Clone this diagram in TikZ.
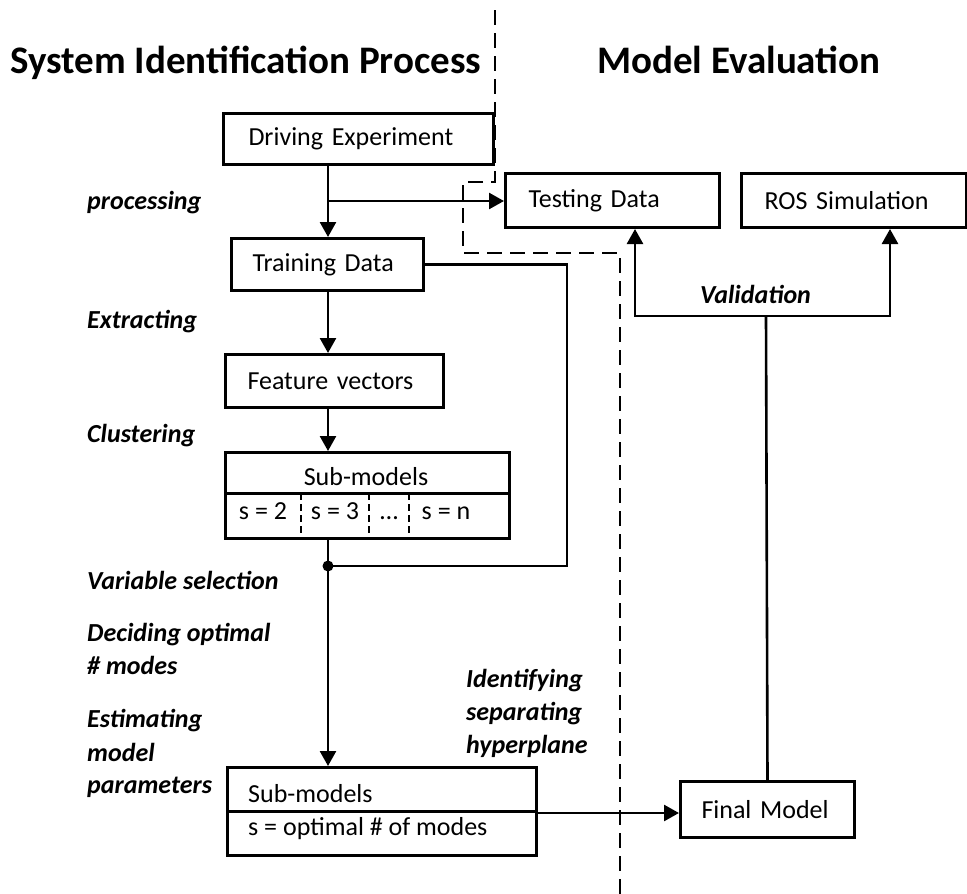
\documentclass[tikz,border=0pt]{standalone}
\usepackage{fontspec}
\setmainfont{Carlito}
\usetikzlibrary{arrows.meta}

\begin{document}
\begin{tikzpicture}[x=1pt,y=-1pt,
  box/.style={draw, line width=3pt, inner ysep=0pt, anchor=north west,
    align=left, font=\fontsize{26}{30}\selectfont},
  boxt/.style={font=\fontsize{26}{30}\selectfont, inner sep=0pt, anchor=base},
  lbl/.style={anchor=base west, inner sep=0pt,
    font=\fontsize{26}{33}\selectfont\bfseries\itshape},
  ttl/.style={anchor=base west, inner sep=0pt,
    font=\fontsize{39}{44}\selectfont\bfseries},
  conn/.style={line width=2.6pt},
  arr/.style={conn, -{Triangle[length=15pt,width=16pt]}},
  divider/.style={line width=2.6pt, dash pattern=on 15pt off 8pt},
  sep/.style={line width=2.4pt, dash pattern=on 7pt off 4pt}]

\useasboundingbox (0,0) rectangle (967,894);

% headings
\node[ttl] (tleft) at (10,73) {System Identification Process};
\node[ttl] (tright) at (597,73) {Model Evaluation};

% split between the two halves
\draw[divider] (495,10) -- (495,182) -- (463,182) -- (463,253)
  -- (620,253) -- (620,894);

% boxes
\node[box, minimum width=270, minimum height=51, inner xsep=25pt,
  text width=220] (drive) at (222,112) {Driving Experiment};
\node[box, minimum width=214, minimum height=54, inner xsep=23pt,
  text width=168] (test) at (504,172) {Testing Data};
\node[box, minimum width=225, minimum height=54, inner xsep=23pt,
  text width=179] (ros) at (740,172) {ROS Simulation};
\node[box, minimum width=192, minimum height=52, inner xsep=21pt,
  text width=150] (train) at (230,237) {Training Data};
\node[box, minimum width=218, minimum height=53, inner xsep=22pt,
  text width=174] (feat) at (224,353) {Feature vectors};
\node[box, minimum width=174, minimum height=56, inner xsep=21pt,
  text width=132] (final) at (679,780) {Final Model};

% clustered sub-models
\node[box, minimum width=284, minimum height=86, inner xsep=0pt] (sub1) at (224,451) {};
\coordinate (s1mid) at (224,493);
\draw[line width=3pt] (s1mid) -- (s1mid -| sub1.east);
\coordinate (d1) at (301,493);
\coordinate (d2) at (369,493);
\coordinate (d3) at (409,493);
\draw[sep] (d1) -- (d1 |- sub1.south);
\draw[sep] (d2) -- (d2 |- sub1.south);
\draw[sep] (d3) -- (d3 |- sub1.south);
\node[boxt] (s1head) at (366,485) {Sub-models};
\node[boxt] (s1a) at (263,519) {s = 2};
\node[boxt] (s1b) at (335,519) {s = 3};
\node[boxt] (s1c) at (389,519) {…};
\node[boxt] (s1d) at (446,519) {s = n};

% selected sub-models
\node[box, minimum width=309, minimum height=88, inner xsep=0pt] (sub2) at (226,766) {};
\coordinate (s2mid) at (226,811);
\draw[line width=3pt] (s2mid) -- (s2mid -| sub2.east);
\node[boxt, anchor=base west] (s2head) at (248,802) {Sub-models};
\node[boxt, anchor=base west] (s2row) at (248,835) {s = optimal \# of modes};

% connectors
\coordinate (spine) at (328,0);
\coordinate (br) at (328,201);
\coordinate (dot) at (328,566);
\coordinate (loop) at (567,566);
\draw[arr] (drive.south -| spine) -- (train.north -| spine);
\draw[arr] (br) -- (test.west |- br);
\draw[arr] (train.south -| spine) -- (feat.north -| spine);
\draw[arr] (feat.south -| spine) -- (sub1.north -| spine);
\draw[conn] (train.east) -| (loop) -- (dot);
\draw[arr] (sub1.south -| spine) -- (sub2.north -| spine);
\fill (dot) circle (5.5);
\coordinate (s2out) at (535,813);
\draw[arr] (s2out) -- (final.west |- s2out);

\coordinate (vjoin) at (766,316);
\coordinate (vl) at (635,0);
\coordinate (vr) at (890,0);
\draw[conn] (final.north) -- (vjoin);
\draw[arr] (vjoin) -| (test.south -| vl);
\draw[arr] (vjoin) -| (ros.south -| vr);

% step labels
\node[lbl] (lproc) at (87,209) {processing};
\node[lbl] (lextr) at (87,328) {Extracting};
\node[lbl] (lclus) at (87,442) {Clustering};
\node[lbl] (lvar) at (87,589) {Variable selection};
\node[lbl] (ldec1) at (87,641) {Deciding optimal};
\node[lbl] (ldec2) at (87,674) {\# modes};
\node[lbl] (lest1) at (87,727) {Estimating};
\node[lbl] (lest2) at (87,761) {model};
\node[lbl] (lest3) at (87,793) {parameters};
\node[lbl] (lid1) at (466,687) {Identifying};
\node[lbl] (lid2) at (466,720) {separating};
\node[lbl] (lid3) at (466,753) {hyperplane};
\node[lbl] (lval) at (700,303) {Validation};
\end{tikzpicture}
\end{document}
